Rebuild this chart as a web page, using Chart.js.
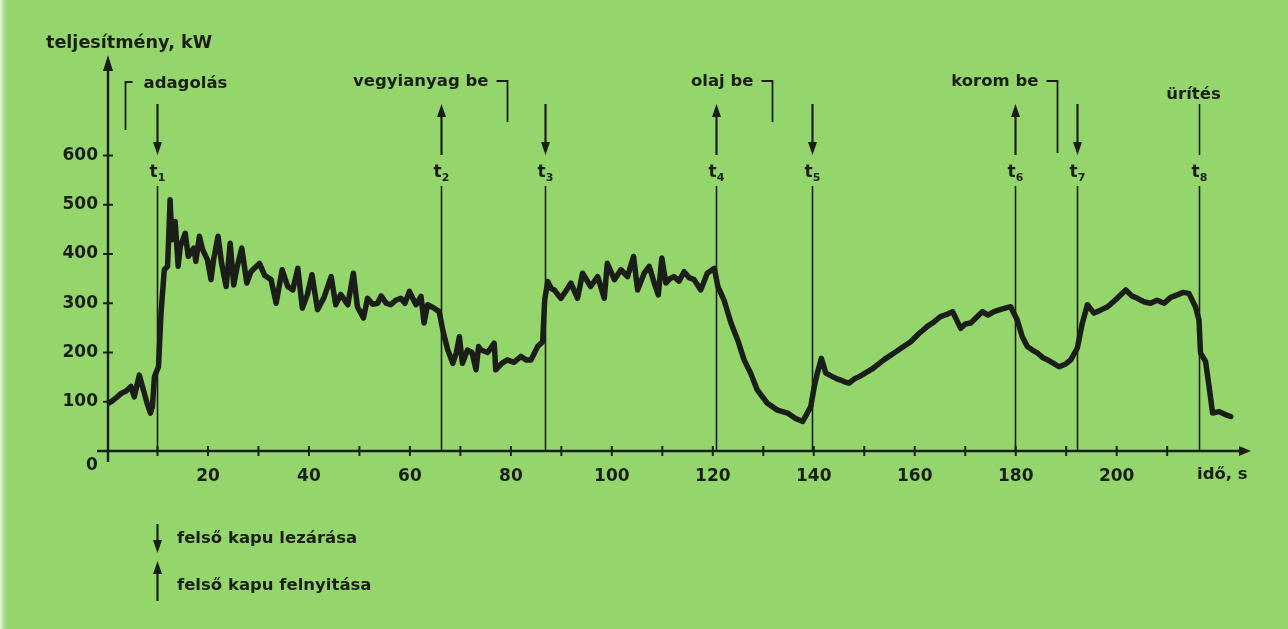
<!DOCTYPE html>
<html><head><meta charset="utf-8">
<script src="https://cdn.jsdelivr.net/npm/chart.js@4.4.1/dist/chart.umd.min.js"></script>
<style>html,body{margin:0;padding:0;background:#94d66c;}canvas{display:block;}</style>
</head><body>
<canvas id="c" width="1288" height="629"></canvas>
<script>
// ---- data ----
const times = [0.0,0.8,1.8,2.8,3.8,4.75,5.4,6.4,7.4,8.0,8.6,9.0,9.4,10.2,10.7,11.35,12.0,12.5,12.85,13.5,14.1,14.5,15.5,16.1,17.2,17.6,18.3,18.9,19.9,20.6,21.1,22.0,22.7,23.6,24.4,25.1,25.8,26.7,27.7,28.5,29.3,30.2,31.2,32.5,33.5,34.7,35.8,36.8,37.8,38.7,39.7,40.6,41.7,43.0,44.4,45.3,46.3,47.7,48.8,49.6,50.8,51.6,52.6,53.6,54.3,55.3,56.2,57.2,58.2,59.0,59.9,61.2,62.2,62.8,63.5,64.8,65.8,66.5,67.5,68.5,69.2,69.8,70.4,71.4,72.3,73.1,73.6,74.1,75.4,76.7,77.0,78.2,79.3,80.6,82.0,83.0,84.0,85.3,86.3,86.7,87.3,88.0,88.6,89.9,90.9,91.9,93.2,94.2,95.8,97.2,98.5,99.1,100.5,101.8,103.1,104.3,105.1,106.4,107.4,108.4,109.2,109.9,110.7,111.5,112.3,113.3,114.3,115.3,116.3,117.6,118.9,120.3,121.0,122.2,123.6,124.9,126.2,127.5,128.8,130.8,132.8,134.8,136.4,137.8,138.7,139.4,140.1,140.7,141.5,142.4,143.7,144.5,145.3,146.2,147.0,148.0,149.0,150.5,151.5,152.6,154.0,155.9,157.5,159.2,160.8,162.5,163.8,165.1,166.5,167.5,169.1,170.0,171.1,172.3,173.4,174.5,175.7,177.2,179.0,180.3,181.3,182.3,183.3,184.3,185.3,186.3,187.5,188.6,189.8,190.9,192.2,193.2,194.2,195.5,196.8,198.2,200.1,201.8,203.0,204.1,205.4,206.7,208.0,209.4,210.7,212.0,213.2,214.3,215.6,216.3,216.6,217.6,218.3,219.0,220.3,221.5,222.6];
const power = [95,100,108,117,122,131,110,154,117,95,77,90,151,171,280,368,375,510,429,466,375,415,442,395,412,385,436,410,388,348,388,436,381,334,422,337,375,412,341,364,372,381,357,348,300,368,334,327,371,290,318,358,287,312,354,297,318,297,361,293,270,310,298,300,315,300,297,306,310,300,324,297,314,260,297,290,283,246,205,178,200,232,178,205,200,165,212,205,200,219,165,178,185,180,192,185,185,212,222,307,344,330,327,310,325,341,310,361,334,354,310,381,348,368,354,395,327,361,375,341,317,392,341,350,354,345,364,352,348,327,361,371,334,307,260,226,185,158,124,97,83,77,66,60,77,90,131,158,188,158,151,147,144,140,138,146,151,160,166,175,186,199,210,222,238,253,262,273,278,283,249,258,260,272,283,276,283,288,293,266,232,212,205,199,190,185,178,171,176,185,209,260,297,280,286,293,310,327,315,310,303,300,306,300,312,317,322,320,293,266,199,182,131,77,80,74,70];
const yTicks = [100,200,300,400,500,600];
const xTickMarks = [10,20,30,40,50,60,70,80,90,100,110,120,130,140,150,160,170,180,190,200,210];
const xTickLabels = [20,40,60,80,100,120,140,160,180,200];
const eventTimes = [9.9,66.2,86.8,120.6,139.7,179.9,192.2,216.3];
const eventNames = ['1','2','3','4','5','6','7','8'];
const eventArrows = ['down','up','down','up','down','up','down','none'];
const phaseLabels = ['adagolás','vegyianyag be','olaj be','korom be','ürítés'];
const phaseTimes = [3.6,79.2,131.7,188.2,215.1];
const phaseKinds = ['left','right','right','right','none'];
const legendLabels = ['felső kapu lezárása','felső kapu felnyitása'];
const yTitle = 'teljesítmény, kW';
const xTitle = 'idő, s';

const INK = '#1b1e18';
const FONT = 'DejaVu Sans';

function arrow(ctx, x, y1, y2, dir) {
  ctx.save();
  ctx.strokeStyle = INK; ctx.fillStyle = INK; ctx.lineWidth = 2.2;
  const hl = 13, hw = 4.5;
  ctx.beginPath();
  if (dir === 'down') { ctx.moveTo(x, y1); ctx.lineTo(x, y2 - hl + 2); }
  else if (dir === 'up') { ctx.moveTo(x, y1 + hl - 2); ctx.lineTo(x, y2); }
  else { ctx.lineWidth = 1.6; ctx.moveTo(x, y1); ctx.lineTo(x, y2); }
  ctx.stroke();
  ctx.beginPath();
  if (dir === 'down') { ctx.moveTo(x - hw, y2 - hl); ctx.lineTo(x + hw, y2 - hl); ctx.lineTo(x, y2); ctx.closePath(); ctx.fill(); }
  if (dir === 'up') { ctx.moveTo(x - hw, y1 + hl); ctx.lineTo(x + hw, y1 + hl); ctx.lineTo(x, y1); ctx.closePath(); ctx.fill(); }
  ctx.restore();
}

const bgPlugin = {
  id: 'bg',
  beforeDraw(chart) {
    const ctx = chart.ctx;
    ctx.save();
    ctx.fillStyle = '#94d66c';
    ctx.fillRect(0, 0, chart.width, chart.height);
    const g = ctx.createLinearGradient(0, 0, 9, 0);
    g.addColorStop(0, '#eef6e4'); g.addColorStop(1, 'rgba(148,214,108,0)');
    ctx.fillStyle = g; ctx.fillRect(0, 0, 9, chart.height);
    ctx.restore();
  }
};

const overlay = {
  id: 'overlay',
  afterDraw(chart) {
    const ctx = chart.ctx, xs = chart.scales.x, ys = chart.scales.y, ca = chart.chartArea;
    const x0 = ca.left + 1, y0 = ys.getPixelForValue(0);
    ctx.save();
    ctx.strokeStyle = INK; ctx.fillStyle = INK; ctx.lineCap = 'butt';
    // axes
    ctx.lineWidth = 2.4;
    ctx.beginPath(); ctx.moveTo(x0 - 11, y0); ctx.lineTo(ca.right - 8, y0); ctx.stroke();
    ctx.beginPath(); ctx.moveTo(ca.right - 14, y0 - 5); ctx.lineTo(ca.right - 14, y0 + 5); ctx.lineTo(ca.right - 2, y0); ctx.closePath(); ctx.fill();
    ctx.beginPath(); ctx.moveTo(x0, y0 + 11); ctx.lineTo(x0, ca.top + 8); ctx.stroke();
    ctx.beginPath(); ctx.moveTo(x0 - 5, ca.top + 14); ctx.lineTo(x0 + 5, ca.top + 14); ctx.lineTo(x0, ca.top - 2); ctx.closePath(); ctx.fill();
    // crossing tick marks
    ctx.lineWidth = 2;
    xTickMarks.forEach(v => { const px = xs.getPixelForValue(v); ctx.beginPath(); ctx.moveTo(px, y0 - 5); ctx.lineTo(px, y0 + 5); ctx.stroke(); });
    yTicks.forEach(v => { const py = ys.getPixelForValue(v); ctx.beginPath(); ctx.moveTo(x0 - 5, py); ctx.lineTo(x0 + 5, py); ctx.stroke(); });
    // origin label and axis titles
    ctx.font = 'bold 17px "' + FONT + '"';
    ctx.textBaseline = 'middle'; ctx.textAlign = 'center';
    ctx.fillText('0', x0 - 16, y0 + 15);
    ctx.textAlign = 'left'; ctx.textBaseline = 'alphabetic';
    ctx.font = 'bold 17.6px "' + FONT + '"';
    ctx.fillText(yTitle, 46, 48);
    ctx.font = 'bold 16.5px "' + FONT + '"';
    ctx.fillText(xTitle, 1197, 479);
    // event lines with labels and arrows
    eventTimes.forEach((t, i) => {
      const px = Math.round(xs.getPixelForValue(t)) + 0.5;
      ctx.lineWidth = 1.6;
      ctx.beginPath(); ctx.moveTo(px, y0); ctx.lineTo(px, 186); ctx.stroke();
      ctx.font = 'bold 17px "' + FONT + '"'; ctx.textAlign = 'left'; ctx.textBaseline = 'alphabetic';
      const tw = ctx.measureText('t').width;
      ctx.font = 'bold 11px "' + FONT + '"';
      const sw = ctx.measureText(eventNames[i]).width;
      const sx = px - (tw + sw) / 2;
      ctx.font = 'bold 17px "' + FONT + '"';
      ctx.fillText('t', sx, 177);
      ctx.font = 'bold 11px "' + FONT + '"';
      ctx.fillText(eventNames[i], sx + tw, 181);
      arrow(ctx, px, 104, 155, eventArrows[i]);
    });
    // phase labels with brackets
    ctx.font = 'bold 16.5px "' + FONT + '"'; ctx.textBaseline = 'alphabetic';
    ctx.lineWidth = 1.8;
    phaseLabels.forEach((lab, i) => {
      const px = Math.round(xs.getPixelForValue(phaseTimes[i])) + 0.5;
      if (phaseKinds[i] === 'left') {
        ctx.beginPath(); ctx.moveTo(px + 7, 82); ctx.lineTo(px, 82); ctx.lineTo(px, 130); ctx.stroke();
        ctx.textAlign = 'left'; ctx.fillText(lab, px + 18, 88);
      } else if (phaseKinds[i] === 'right') {
        const bottom = i === 3 ? 153 : 122;
        ctx.beginPath(); ctx.moveTo(px - 11, 81); ctx.lineTo(px, 81); ctx.lineTo(px, bottom); ctx.stroke();
        ctx.textAlign = 'right'; ctx.fillText(lab, px - 19, 86);
      } else {
        ctx.textAlign = 'center'; ctx.fillText(lab, px, 99);
      }
    });
    // legend
    ctx.textAlign = 'left'; ctx.textBaseline = 'middle';
    arrow(ctx, 157.5, 524, 553, 'down');
    arrow(ctx, 157.5, 561, 601, 'up');
    ctx.fillText(legendLabels[0], 177, 539);
    ctx.fillText(legendLabels[1], 177, 586);
    ctx.restore();
  }
};

new Chart(document.getElementById('c').getContext('2d'), {
  type: 'line',
  data: { datasets: [{
    data: times.map((t, i) => ({ x: t, y: power[i] })),
    borderColor: INK, borderWidth: 5.5, pointRadius: 0, tension: 0, fill: false,
    borderJoinStyle: 'round', borderCapStyle: 'round'
  }] },
  options: {
    responsive: false, animation: false, devicePixelRatio: 1,
    layout: { padding: { left: 0, right: 35, top: 57, bottom: 0 } },
    plugins: { legend: { display: false }, tooltip: { enabled: false } },
    scales: {
      x: {
        type: 'linear', min: 0, max: 227, position: 'bottom',
        afterBuildTicks: s => { s.ticks = xTickLabels.map(v => ({ value: v })); },
        afterFit: s => { s.height = 178; },
        grid: { display: false, drawTicks: false }, border: { display: false },
        ticks: { font: { family: FONT, weight: 'bold', size: 17 }, color: INK, padding: 15, maxRotation: 0, autoSkip: false }
      },
      y: {
        min: 0, max: 800,
        afterBuildTicks: s => { s.ticks = yTicks.map(v => ({ value: v })); },
        afterFit: s => { s.width = 107; },
        grid: { display: false, drawTicks: false }, border: { display: false },
        ticks: { font: { family: FONT, weight: 'bold', size: 17 }, color: INK, padding: 9, autoSkip: false }
      }
    }
  },
  plugins: [bgPlugin, overlay]
});
</script>
</body></html>
